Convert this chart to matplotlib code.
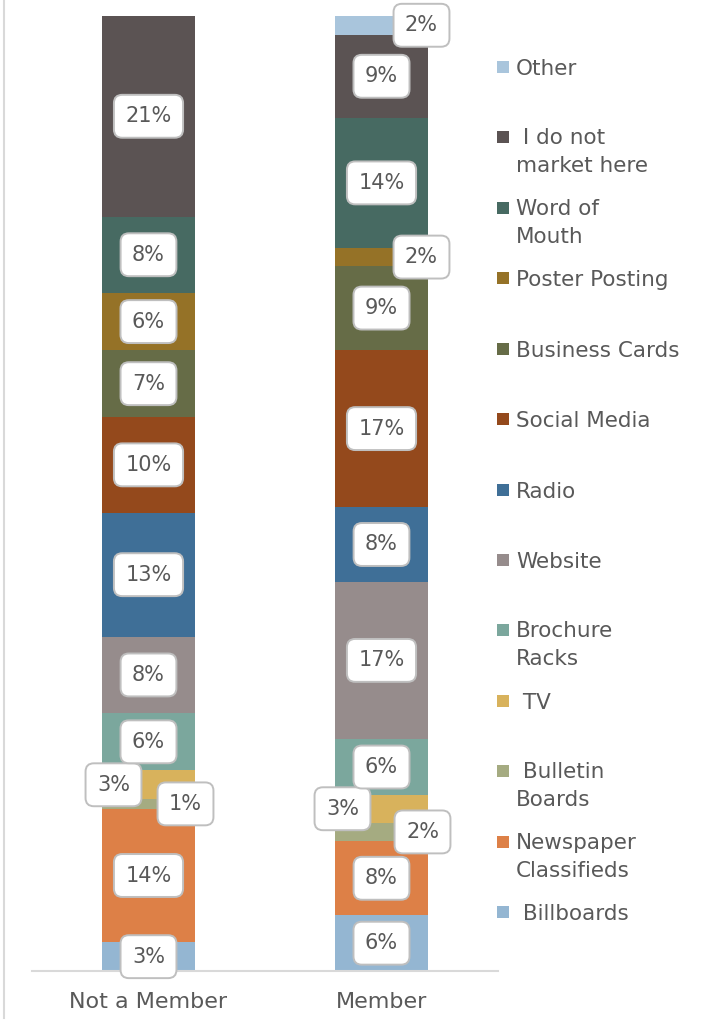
import matplotlib
matplotlib.use("Agg")
import matplotlib.pyplot as plt
from matplotlib.lines import Line2D
from matplotlib.patches import Rectangle

plt.rcParams["font.family"] = ["DejaVu Sans"]

# --- data -------------------------------------------------------------
categories = ["Not a Member", "Member"]
series = ["Billboards", "Newspaper Classifieds", "Bulletin Boards", "TV",
          "Brochure Racks", "Website", "Radio", "Social Media",
          "Business Cards", "Poster Posting", "Word of Mouth",
          "I do not market here", "Other"]
legend_labels = [" Billboards", "Newspaper\nClassifieds", " Bulletin\nBoards",
                 " TV", "Brochure\nRacks", "Website", "Radio", "Social Media",
                 "Business Cards", "Poster Posting", "Word of\nMouth",
                 " I do not\nmarket here", "Other"]
not_member = [3, 14, 1, 3, 6, 8, 13, 10, 7, 6, 8, 21, 0]
member = [6, 8, 2, 3, 6, 17, 8, 17, 9, 2, 14, 9, 2]

colors = ["#94B6D2", "#DD8047", "#A5AB81", "#D8B25C", "#7BA79D", "#968C8C",
          "#3F6F97", "#94491C", "#666C47", "#957227", "#476A62", "#5B5353",
          "#A9C5DC"]

TEXT = "#595959"
W, H = 702, 1023

fig = plt.figure(figsize=(W / 100, H / 100), dpi=100)
ax = fig.add_axes([32 / W, 1 - 971 / H, 466 / W, 955 / H])

columns = [not_member, member]
bar_w = 0.40

# horizontal nudges (pixels) for labels on thin segments
label_shift = {
    (0, 3): -35, (0, 2): 37,
    (1, 12): 40, (1, 9): 40, (1, 3): -39, (1, 2): 41,
}

for ci, vals in enumerate(columns):
    total = float(sum(vals))
    bottom = 0.0
    for si, v in enumerate(vals):
        h = v / total * 100
        ax.bar(ci, h, bottom=bottom, width=bar_w, color=colors[si],
               edgecolor="none", zorder=2)
        if v > 0:
            dx = label_shift.get((ci, si), 0)
            ax.annotate(f"{v}%", xy=(ci, bottom + h / 2), xytext=(dx, 0),
                        textcoords="offset pixels", ha="center", va="center",
                        fontsize=15, color=TEXT, zorder=5,
                        bbox=dict(boxstyle="round,pad=0.55,rounding_size=0.4",
                                  fc="white", ec="#BFBFBF", lw=1.4))
        bottom += h

ax.set_xlim(-0.5, 1.5)
ax.set_ylim(0, 100)
ax.set_xticks(range(len(categories)))
ax.set_xticklabels(categories, fontsize=16, color=TEXT)
ax.tick_params(axis="x", length=0, pad=15)
ax.set_yticks([])
for side in ["left", "right", "top"]:
    ax.spines[side].set_visible(False)
ax.spines["bottom"].set_color("#D9D9D9")
ax.spines["bottom"].set_linewidth(1.5)

# legend, top entry first
first_line_y = 67
step = (912 - 67) / 12
for k, si in enumerate(reversed(range(len(series)))):
    yc = first_line_y + k * step
    label = legend_labels[si]
    text_y = yc + 9 * label.count("\n")
    fig.add_artist(Rectangle((497 / W, 1 - (yc + 6) / H), 12 / W, 12 / H,
                             transform=fig.transFigure, facecolor=colors[si],
                             edgecolor="none"))
    fig.text(516 / W, 1 - text_y / H, label, fontsize=15.5, color=TEXT,
             ha="left", va="center_baseline", linespacing=1.5)

# chart frame edge
fig.add_artist(Line2D([4 / W, 4 / W], [1 - 1018 / H, 1], transform=fig.transFigure,
                      color="#D9D9D9", lw=1.5))

fig.savefig("out.png", dpi=100, facecolor="white")
